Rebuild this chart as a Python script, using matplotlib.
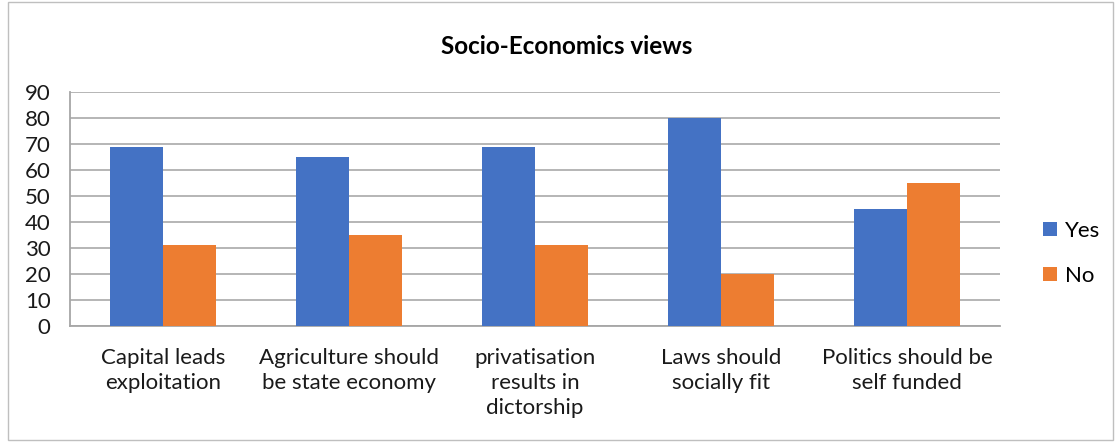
import matplotlib.pyplot as plt
import numpy as np
from matplotlib.patches import Rectangle

categories = ['Capital leads\nexploitation', 'Agriculture should\nbe state economy',
              'privatisation\nresults in\ndictorship', 'Laws should\nsocially fit',
              'Politics should be\nself funded']
yes = [69, 65, 69, 80, 45]
no = [31, 35, 31, 20, 55]

plt.rcParams['font.family'] = ['Lato', 'DejaVu Sans']

fig = plt.figure(figsize=(11.16, 4.42), dpi=100)
fig.patches.append(Rectangle((0.007, 0.004), 0.99, 0.992, transform=fig.transFigure,
                             fill=False, edgecolor='#bfbfbf', linewidth=1))
ax = fig.add_axes([0.0627, 0.2624, 0.8333, 0.5294])

x = np.arange(len(categories))
w = 0.285
ax.bar(x - w / 2, yes, w, color='#4472c4', label='Yes', zorder=3)
ax.bar(x + w / 2, no, w, color='#ed7d31', label='No', zorder=3)

ax.set_xlim(-0.5, len(categories) - 0.5)
ax.set_ylim(0, 90)
ax.set_yticks(range(0, 91, 10))
ax.set_xticks(x)
ax.set_xticklabels(categories, fontsize=16, color='#1a1a1a', linespacing=1.3)
ax.tick_params(axis='y', labelsize=16, colors='#1a1a1a', length=0, pad=14)
ax.tick_params(axis='x', length=0, pad=16)
ax.grid(axis='y', color='#b0b0b0', linewidth=1.3, zorder=0)
for s in ['top', 'right']:
    ax.spines[s].set_visible(False)
ax.spines['left'].set_color('#a6a6a6')
ax.spines['bottom'].set_color('#a6a6a6')
ax.spines['left'].set_linewidth(1.3)
ax.spines['bottom'].set_linewidth(1.3)

fig.text(0.508, 0.895, 'Socio-Economics views', ha='center', va='center',
         fontsize=17.5, fontweight='bold')
ax.legend(loc='center left', bbox_to_anchor=(1.025, 0.31), frameon=False, fontsize=16,
          handlelength=0.6, handleheight=0.6, labelspacing=1.15, handletextpad=0.4)

fig.savefig('out.png')
